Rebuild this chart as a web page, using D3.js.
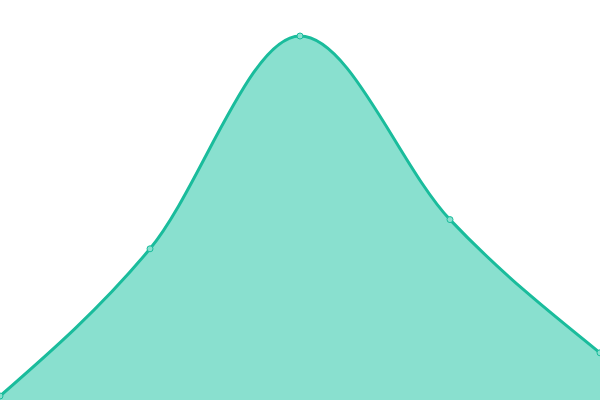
<!DOCTYPE html>
<html>
<head>
<meta charset="utf-8">
<script src="https://cdn.jsdelivr.net/npm/d3@7"></script>
<style>
  html, body { margin: 0; padding: 0; background: #fff; }
  svg { display: block; }
</style>
</head>
<body>
<svg id="Canvas" width="600" height="400"></svg>
<script>
// values, on a 0..100 scale
var labels = ["A", "B", "C", "D", "E"];
var values = [1, 37.8, 91, 45.1, 11.8];

var svg = d3.select("#Canvas");
var width = 600;
var height = 400;

var x = d3.scalePoint()
  .domain(labels)
  .range([0, width]);

var y = d3.scaleLinear()
  .domain([0, 100])
  .range([height, 0]);

var data = labels.map(function (d, i) {
  return { label: d, value: values[i] };
});

var area = d3.area()
  .x(function (d) { return x(d.label); })
  .y0(height)
  .y1(function (d) { return y(d.value); })
  .curve(d3.curveMonotoneX);

var line = d3.line()
  .x(function (d) { return x(d.label); })
  .y(function (d) { return y(d.value); })
  .curve(d3.curveMonotoneX);

svg.append("path")
  .datum(data)
  .attr("d", area)
  .style("fill", "#89e0cf");

svg.append("path")
  .datum(data)
  .attr("d", line)
  .style("fill", "none")
  .style("stroke", "#1abc9c")
  .style("stroke-width", 3);

svg.selectAll("circle")
  .data(data)
  .enter()
  .append("circle")
  .attr("cx", function (d) { return x(d.label); })
  .attr("cy", function (d) { return y(d.value); })
  .attr("r", 3)
  .style("fill", "#89e0cf")
  .style("stroke", "#1abc9c")
  .style("stroke-width", 1);
</script>
</body>
</html>
